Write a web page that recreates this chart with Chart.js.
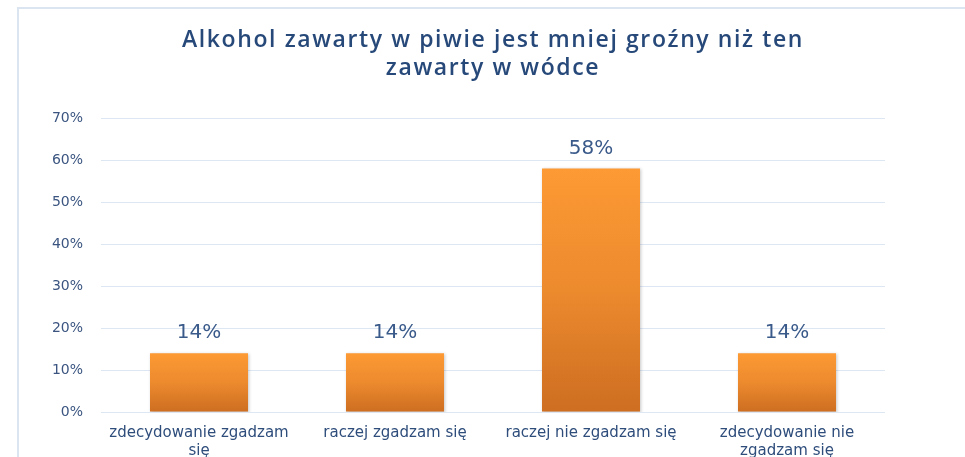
<!DOCTYPE html>
<html>
<head>
<meta charset="utf-8">
<script src="https://cdn.jsdelivr.net/npm/chart.js@4"></script>
<style>
  html, body { margin: 0; padding: 0; background: #fff; overflow: hidden; }
</style>
</head>
<body>
<canvas id="myChart" width="965" height="483"></canvas>
<script>
const titleLines = ['Alkohol zawarty w piwie jest mniej groźny niż ten', 'zawarty w wódce'];
const categories = [
  ['zdecydowanie zgadzam', 'się'],
  'raczej zgadzam się',
  'raczej nie zgadzam się',
  ['zdecydowanie nie', 'zgadzam się']
];
const values = [14, 14, 58, 14];

// per-bar vertical gradient, light on top, dark at the base
function barGradient(context) {
  const chart = context.chart;
  const { ctx, chartArea, scales } = chart;
  if (!chartArea || !scales.y) return '#f0892c';
  const top = scales.y.getPixelForValue(context.raw);
  const bottom = scales.y.getPixelForValue(0);
  const g = ctx.createLinearGradient(0, top, 0, bottom);
  g.addColorStop(0, '#fd9a34');
  g.addColorStop(0.5, '#ec8a2e');
  g.addColorStop(1, '#cd6e21');
  return g;
}

const frame = {
  id: 'frame',
  beforeDraw(chart) {
    const ctx = chart.ctx;
    ctx.save();
    ctx.strokeStyle = '#dbe5f1';
    ctx.lineWidth = 2;
    ctx.strokeRect(18, 8, 1000, 600);
    ctx.restore();
  }
};

// title centred over the plot area, not the whole canvas
const plotTitle = {
  id: 'plotTitle',
  afterDraw(chart) {
    const { ctx, chartArea } = chart;
    const cx = (chartArea.left + chartArea.right) / 2;
    ctx.save();
    ctx.font = '600 23px "Open Sans"';
    ctx.letterSpacing = '1.6px';
    ctx.fillStyle = '#27497a';
    ctx.textAlign = 'center';
    ctx.textBaseline = 'middle';
    titleLines.forEach((line, i) => ctx.fillText(line, cx, 40 + i * 28));
    ctx.restore();
  }
};

const barShadow = {
  id: 'barShadow',
  beforeDatasetsDraw(chart) {
    const ctx = chart.ctx;
    ctx.save();
    ctx.shadowColor = 'rgba(0,0,0,0.22)';
    ctx.shadowBlur = 3;
    ctx.shadowOffsetX = 1;
    ctx.shadowOffsetY = 1;
  },
  afterDatasetsDraw(chart) {
    chart.ctx.restore();
  }
};

const valueLabels = {
  id: 'valueLabels',
  afterDatasetsDraw(chart) {
    const ctx = chart.ctx;
    const meta = chart.getDatasetMeta(0);
    ctx.save();
    ctx.font = '20px "DejaVu Sans"';
    ctx.fillStyle = '#3a5a8a';
    ctx.textAlign = 'center';
    ctx.textBaseline = 'middle';
    meta.data.forEach((bar, i) => {
      ctx.fillText(values[i] + '%', bar.x, bar.y - 20);
    });
    ctx.restore();
  }
};

const ctx = document.getElementById('myChart').getContext('2d');
const myChart = new Chart(ctx, {
  type: 'bar',
  data: {
    labels: categories,
    datasets: [{
      data: values,
      backgroundColor: barGradient,
      borderWidth: 0,
      categoryPercentage: 1,
      barPercentage: 0.5
    }]
  },
  options: {
    responsive: false,
    animation: false,
    layout: { padding: { left: 18, right: 80, top: 118, bottom: 11 } },
    plugins: {
      legend: { display: false },
      tooltip: { enabled: false },
      title: { display: false }
    },
    scales: {
      x: {
        grid: { display: false, drawTicks: false },
        border: { display: false },
        ticks: {
          color: '#2e4d7b',
          font: { family: 'DejaVu Sans', size: 15, lineHeight: 1.2 },
          padding: 12,
          maxRotation: 0,
          autoSkip: false
        }
      },
      y: {
        min: 0,
        max: 70,
        afterFit(scale) { scale.width = 83; },
        grid: { color: '#dde7f3', lineWidth: 1, drawTicks: false },
        border: { display: false },
        ticks: {
          stepSize: 10,
          color: '#3b5580',
          font: { family: 'DejaVu Sans', size: 14 },
          padding: 18,
          callback: v => v + '%'
        }
      }
    }
  },
  plugins: [frame, barShadow, valueLabels, plotTitle]
});
</script>
</body>
</html>
